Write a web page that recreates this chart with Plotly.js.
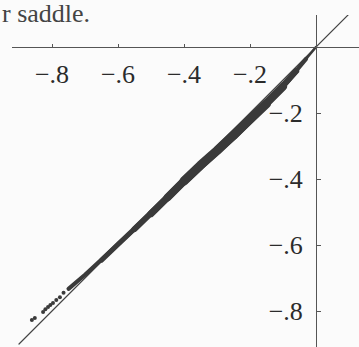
<!DOCTYPE html>
<html>
<head>
<meta charset="utf-8">
<script src="https://cdn.plot.ly/plotly-3.0.1.min.js"></script>
<style>
  body { margin: 0; background: #fbfbfb; }
  #plot { width: 359px; height: 347px; }
  #plot .js-line { stroke-linecap: round; stroke-linejoin: round; }
</style>
</head>
<body>
<div id="plot"></div>
<script>
// values
var diagX = [-0.9, 0.1];
var diagY = [-0.9, 0.1];

var bandX = [0, -0.03, -0.06, -0.1, -0.15, -0.2, -0.25, -0.3, -0.35, -0.4, -0.45, -0.5, -0.55, -0.6, -0.65, -0.7, -0.75];
var bandY = [0, -0.036, -0.073, -0.12, -0.172, -0.222, -0.27, -0.314, -0.358, -0.406, -0.456, -0.505, -0.552, -0.598, -0.646, -0.69, -0.733];

var tailX = [-0.765, -0.776, -0.787, -0.797, -0.805, -0.812, -0.82, -0.827, -0.852, -0.861];
var tailY = [-0.745, -0.758, -0.767, -0.776, -0.782, -0.788, -0.795, -0.803, -0.821, -0.827];

var xTicks = [-0.8, -0.6, -0.4, -0.2];
var xTickText = ["\u2212.8", "\u2212.6", "\u2212.4", "\u2212.2"];
var yTicks = [-0.8, -0.6, -0.4, -0.2];
var yTickText = ["\u2212.8", "\u2212.6", "\u2212.4", "\u2212.2"];

var ink = "#3a3a3a";

// the dense band of points, drawn as stacked strokes that thin out at both ends
function bandPart(from, to, w) {
  return {
    x: bandX.slice(from, to),
    y: bandY.slice(from, to),
    mode: "lines",
    type: "scatter",
    line: { color: ink, width: w },
    hoverinfo: "skip"
  };
}

var diag = {
  x: diagX,
  y: diagY,
  mode: "lines",
  type: "scatter",
  line: { color: "#444", width: 1.2 },
  hoverinfo: "skip"
};

var tail = {
  x: tailX,
  y: tailY,
  mode: "markers",
  type: "scatter",
  marker: { color: ink, size: 4 },
  hoverinfo: "skip"
};

var data = [
  diag,
  bandPart(0, 17, 2.5),
  bandPart(1, 17, 4),
  bandPart(2, 15, 5),
  bandPart(2, 13, 6),
  bandPart(3, 12, 7),
  bandPart(3, 11, 8),
  bandPart(4, 10, 9),
  tail
];

var tickFont = { family: "Liberation Serif, serif", size: 26, color: "#2b2b2b" };

var layout = {
  width: 359,
  height: 347,
  margin: { l: 12, r: 0, t: 15, b: 0 },
  paper_bgcolor: "#fbfbfb",
  plot_bgcolor: "#fbfbfb",
  showlegend: false,
  xaxis: {
    range: [-0.9212, 0.1303],
    anchor: "free",
    position: 0.9036,
    showline: true,
    linecolor: "#555",
    linewidth: 1,
    showgrid: false,
    zeroline: false,
    tickvals: xTicks,
    ticktext: xTickText,
    ticks: "inside",
    ticklen: 3,
    tickcolor: "#555",
    tickfont: tickFont,
    ticklabelstandoff: 4
  },
  yaxis: {
    range: [-0.9091, 0.097],
    anchor: "free",
    position: 0.8761,
    showline: true,
    linecolor: "#555",
    linewidth: 1,
    showgrid: false,
    zeroline: false,
    tickvals: yTicks,
    ticktext: yTickText,
    ticks: "inside",
    ticklen: 4,
    tickcolor: "#555",
    tickfont: tickFont,
    ticklabelstandoff: 8
  },
  annotations: [{
    text: "r saddle.",
    xref: "paper",
    yref: "paper",
    x: -0.035,
    y: 1.005,
    xanchor: "left",
    yanchor: "middle",
    showarrow: false,
    font: { family: "Liberation Serif, serif", size: 26, color: "#444" }
  }]
};

Plotly.newPlot("plot", data, layout, { displayModeBar: false, staticPlot: true });
</script>
</body>
</html>
